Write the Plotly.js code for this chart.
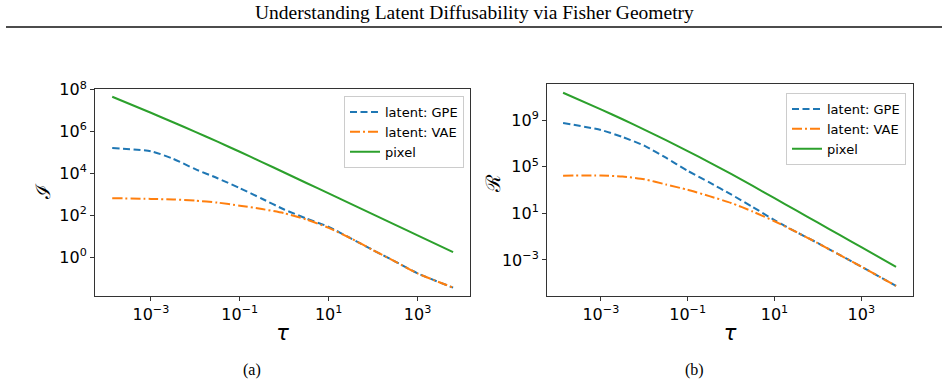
<!DOCTYPE html>
<html>
<head>
<meta charset="utf-8">
<script src="https://cdn.plot.ly/plotly-3.0.1.min.js"></script>
<style>
  html, body { margin: 0; padding: 0; background: #fff; }
  #chart { width: 948px; height: 384px; }
</style>
</head>
<body>
<div id="chart"></div>
<script>
// ---- data ----
const tau = [1.35e-4, 1e-3, 3.16e-3, 0.01, 0.0316, 0.1, 0.316, 1, 3.16, 10, 31.6, 100, 316, 1000, 6.3e3];

// (a) Fisher information I(tau)
const infoGPE   = [1.62e5, 1.15e5, 5.0e4, 1.6e4, 5.9e3, 2.0e3, 620, 190, 70, 28.2, 7.94, 2.19, 0.617, 0.170, 0.0355];
const infoVAE   = [661, 610, 570, 505, 405, 290, 200, 126, 63.1, 25.1, 7.94, 2.19, 0.617, 0.170, 0.0355];
const infoPixel = [4.57e7, 7.84e6, 2.78e6, 9.64e5, 3.27e5, 1.08e5, 3.50e4, 1.11e4, 3.50e3, 1.11e3, 350, 111, 35.0, 11.1, 1.75];

// (b) R(tau)
const rGPE   = [5.75e8, 1.45e8, 3.6e7, 6.5e6, 6.0e5, 4.5e4, 4.5e3, 420, 35, 2.6, 0.251, 0.0275, 2.69e-3, 2.63e-4, 5.75e-6];
const rVAE   = [1.70e4, 1.78e4, 1.45e4, 8.5e3, 3.0e3, 1.05e3, 300, 78, 14.1, 2.09, 0.251, 0.0275, 2.69e-3, 2.63e-4, 5.75e-6];
const rPixel = [2.29e11, 8.51e9, 1.20e9, 1.58e8, 1.95e7, 2.24e6, 2.40e5, 2.40e4, 2.24e3, 200, 17.8, 1.58, 0.141, 0.0126, 2.51e-4];

const seriesNames = ["latent: GPE", "latent: VAE", "pixel"];
const xTickVals = [1e-3, 1e-1, 1e1, 1e3];
const xTickText = ["10<sup>\u22123</sup>", "10<sup>\u22121</sup>", "10<sup>1</sup>", "10<sup>3</sup>"];
const yTickValsA = [1, 1e2, 1e4, 1e6, 1e8];
const yTickTextA = ["10<sup>0</sup>", "10<sup>2</sup>", "10<sup>4</sup>", "10<sup>6</sup>", "10<sup>8</sup>"];
const yTickValsB = [1e-3, 1e1, 1e5, 1e9];
const yTickTextB = ["10<sup>\u22123</sup>", "10<sup>1</sup>", "10<sup>5</sup>", "10<sup>9</sup>"];

// ---- styling ----
const BLUE = "#1f77b4", ORANGE = "#ff7f0e", GREEN = "#2ca02c";
const styles = [
  {color: BLUE, width: 2, dash: "7px,3.5px", shape: "spline", smoothing: 0.6},
  {color: ORANGE, width: 2, dash: "10px,3px,2px,3px", shape: "spline", smoothing: 0.6},
  {color: GREEN, width: 2, dash: "solid", shape: "spline", smoothing: 0.4}
];
const W = 948, H = 384;
const fx = p => p / W, fy = p => (H - p) / H;

function mk(y, i, xa, ya, leg) {
  return {x: tau, y: y, type: "scatter", mode: "lines", name: seriesNames[i],
          xaxis: xa, yaxis: ya, legend: leg, line: styles[i], hoverinfo: "x+y"};
}

const data = [
  mk(infoGPE, 0, "x", "y", "legend"),
  mk(infoVAE, 1, "x", "y", "legend"),
  mk(infoPixel, 2, "x", "y", "legend"),
  mk(rGPE, 0, "x2", "y2", "legend2"),
  mk(rVAE, 1, "x2", "y2", "legend2"),
  mk(rPixel, 2, "x2", "y2", "legend2")
];

const tickFont = {family: "DejaVu Sans", size: 16, color: "#000"};
function axis(extra) {
  return Object.assign({
    type: "log", showgrid: false, zeroline: false, showline: true, mirror: true,
    linecolor: "#333", linewidth: 1, ticks: "outside", ticklen: 4, tickwidth: 1,
    tickcolor: "#333", tickfont: tickFont, automargin: false, tickmode: "array"
  }, extra);
}

const legendBase = {
  font: {family: "DejaVu Sans", size: 13, color: "#000"},
  bgcolor: "rgba(255,255,255,0.8)", bordercolor: "#cccccc", borderwidth: 1,
  xanchor: "right", yanchor: "top", tracegroupgap: 0, itemwidth: 30
};
const xTitle = {text: "<i>\u03c4</i>", font: {family: "DejaVu Sans", size: 21, color: "#000"}, standoff: 2};
const yTitleFont = {family: "DejaVu Serif", size: 20, color: "#000"};

const layout = {
  width: W, height: H,
  margin: {l: 0, r: 0, t: 0, b: 0},
  paper_bgcolor: "#fff", plot_bgcolor: "#fff",
  showlegend: true,
  xaxis: axis({domain: [fx(95), fx(470)], range: [-4.257, 4.18], anchor: "y",
               tickvals: xTickVals, ticktext: xTickText, title: xTitle}),
  yaxis: axis({domain: [fy(296), fy(89)], range: [-1.85, 8.03], anchor: "x",
               tickvals: yTickValsA, ticktext: yTickTextA}),
  xaxis2: axis({domain: [fx(547), fx(913)], range: [-4.24, 4.19], anchor: "y2",
               tickvals: xTickVals, ticktext: xTickText, title: xTitle}),
  yaxis2: axis({domain: [fy(296), fy(84)], range: [-6.10, 12.11], anchor: "x2",
               tickvals: yTickValsB, ticktext: yTickTextB}),
  legend: Object.assign({x: fx(464), y: fy(96)}, legendBase),
  legend2: Object.assign({x: fx(906), y: fy(93)}, legendBase),
  annotations: [
    {text: "Understanding Latent Diffusability via Fisher Geometry", xref: "paper", yref: "paper",
     x: fx(474), y: fy(13), xanchor: "center", yanchor: "middle", showarrow: false,
     font: {family: "Liberation Serif", size: 19.5, color: "#000"}},
    {text: "\u2110", xref: "paper", yref: "paper", x: fx(43), y: fy(192), xanchor: "center", yanchor: "middle",
     textangle: -90, showarrow: false, font: yTitleFont},
    {text: "\u211b", xref: "paper", yref: "paper", x: fx(493), y: fy(184), xanchor: "center", yanchor: "middle",
     textangle: -90, showarrow: false, font: yTitleFont},
    {text: "(a)", xref: "paper", yref: "paper", x: fx(252), y: fy(370), xanchor: "center", yanchor: "middle",
     showarrow: false, font: {family: "Liberation Serif", size: 16, color: "#000"}},
    {text: "(b)", xref: "paper", yref: "paper", x: fx(694), y: fy(370), xanchor: "center", yanchor: "middle",
     showarrow: false, font: {family: "Liberation Serif", size: 16, color: "#000"}}
  ],
  shapes: [
    {type: "line", xref: "paper", yref: "paper", x0: fx(6), x1: fx(942), y0: fy(27), y1: fy(27),
     line: {color: "#111", width: 1.5}}
  ]
};

Plotly.newPlot("chart", data, layout, {displayModeBar: false, staticPlot: true});
</script>
</body>
</html>
